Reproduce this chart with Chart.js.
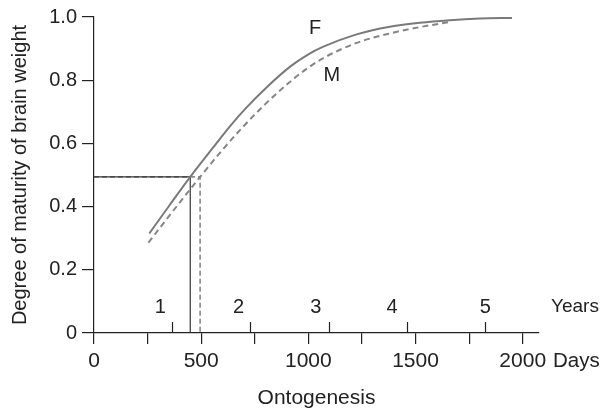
<!DOCTYPE html>
<html><head><meta charset="utf-8">
<script src="https://cdn.jsdelivr.net/npm/chart.js@4"></script>
<style>html,body{margin:0;padding:0;background:#fff}</style>
</head><body>
<canvas id="c" width="604" height="411"></canvas>
<script>
// ---- data ----
const femaleDays     = [258, 350, 449, 557, 635, 713, 806, 915, 1000, 1070, 1225, 1380, 1520, 1660, 1800, 1950];
const femaleMaturity = [0.315, 0.402, 0.494, 0.588, 0.655, 0.715, 0.778, 0.843, 0.882, 0.906, 0.945, 0.969, 0.982, 0.990, 0.995, 0.997];
const maleDays       = [254, 350, 495, 600, 700, 800, 915, 1000, 1070, 1225, 1380, 1520, 1660];
const maleMaturity   = [0.286, 0.37, 0.494, 0.58, 0.656, 0.725, 0.795, 0.84, 0.870, 0.918, 0.948, 0.968, 0.984];
const halfMaturity   = 0.494;
const femaleHalfDay  = 449;
const maleHalfDay    = 495;
const dayTickLabels  = [0, 500, 1000, 1500, 2000];
const yearTickDays   = [365, 730, 1095, 1460, 1825];
const yearLabels     = ['1', '2', '3', '4', '5'];
const seriesNames    = ['F', 'M'];
const seriesLabelAt  = [[1032, 0.963], [1109, 0.815]];

const FONT = '"Liberation Sans", Arial, Helvetica, sans-serif';
const INK = '#222';

const pts = (xs, ys) => xs.map((x, i) => ({x, y: ys[i]}));

const extras = {
  id: 'extras',
  afterDatasetsDraw(chart) {
    const {ctx, scales: {x, y}} = chart;
    const base = y.getPixelForValue(0);
    ctx.save();
    ctx.strokeStyle = INK; ctx.lineWidth = 1.2;
    yearTickDays.forEach(d => {
      const px = Math.round(x.getPixelForValue(d)) + 0.5;
      ctx.beginPath(); ctx.moveTo(px, base); ctx.lineTo(px, base - 11); ctx.stroke();
    });
    ctx.fillStyle = INK;
    ctx.font = '20px ' + FONT;
    ctx.textAlign = 'center'; ctx.textBaseline = 'middle';
    const offs = [-12, -12, -13, -15, 0];
    yearLabels.forEach((t, i) => {
      ctx.fillText(t, x.getPixelForValue(yearTickDays[i]) + offs[i], base - 26);
    });
    ctx.textAlign = 'left';
    ctx.font = '19px ' + FONT;
    ctx.fillText('Years', x.right + 12, base - 26);
    ctx.font = '20.5px ' + FONT;
    ctx.fillText('Days', x.right + 14, base + 28);
    ctx.font = '20px ' + FONT;
    ctx.textAlign = 'center';
    seriesNames.forEach((t, i) => {
      ctx.fillText(t, x.getPixelForValue(seriesLabelAt[i][0]), y.getPixelForValue(seriesLabelAt[i][1]));
    });
    ctx.restore();
  }
};

new Chart(document.getElementById('c'), {
  type: 'line',
  data: {
    datasets: [
      { data: pts(femaleDays, femaleMaturity), borderColor: '#7a7a7a', borderWidth: 2,
        pointRadius: 0, cubicInterpolationMode: 'monotone', fill: false },
      { data: pts(maleDays, maleMaturity), borderColor: '#858585', borderWidth: 2,
        borderDash: [6, 4], pointRadius: 0, cubicInterpolationMode: 'monotone', fill: false },
      { data: [{x: 0, y: halfMaturity}, {x: femaleHalfDay, y: halfMaturity}, {x: femaleHalfDay, y: 0}],
        borderColor: '#333', borderWidth: 1.2, pointRadius: 0, tension: 0 },
      { data: [{x: 0, y: halfMaturity}, {x: maleHalfDay, y: halfMaturity}, {x: maleHalfDay, y: 0}],
        borderColor: '#8a8a8a', borderWidth: 1.6, borderDash: [5, 3], pointRadius: 0, tension: 0 }
    ]
  },
  options: {
    responsive: false, animation: false, devicePixelRatio: 1,
    layout: { padding: { left: 8, top: 17, right: 65, bottom: 0 } },
    plugins: { legend: { display: false }, tooltip: { enabled: false } },
    scales: {
      x: {
        type: 'linear', min: 0, max: 2076,
        afterFit: s => { s.height = 78; },
        border: { color: INK, width: 1.2 },
        grid: { drawOnChartArea: false, drawTicks: true, tickLength: 11, color: INK, lineWidth: 1.2 },
        ticks: { stepSize: 250, includeBounds: false, maxRotation: 0, autoSkip: false, padding: 5,
          color: INK, font: { family: FONT, size: 21 },
          callback: v => dayTickLabels.includes(v) ? String(v) : '' },
        title: { display: true, text: 'Ontogenesis', color: INK, font: { family: FONT, size: 21 }, padding: 0 }
      },
      y: {
        min: 0, max: 1,
        afterFit: s => { s.width = 86; },
        border: { color: INK, width: 1.2 },
        grid: { drawOnChartArea: false, drawTicks: true, tickLength: 12, color: INK, lineWidth: 1.2 },
        ticks: { stepSize: 0.2, padding: 5, color: INK, font: { family: FONT, size: 20 },
          callback: v => { const r = Math.round(v * 10) / 10; return r === 0 ? '0' : r.toFixed(1); } },
        title: { display: true, text: 'Degree of maturity of brain weight', color: INK,
          font: { family: FONT, size: 20 }, padding: 0 }
      }
    }
  },
  plugins: [extras]
});
</script>
</body></html>
